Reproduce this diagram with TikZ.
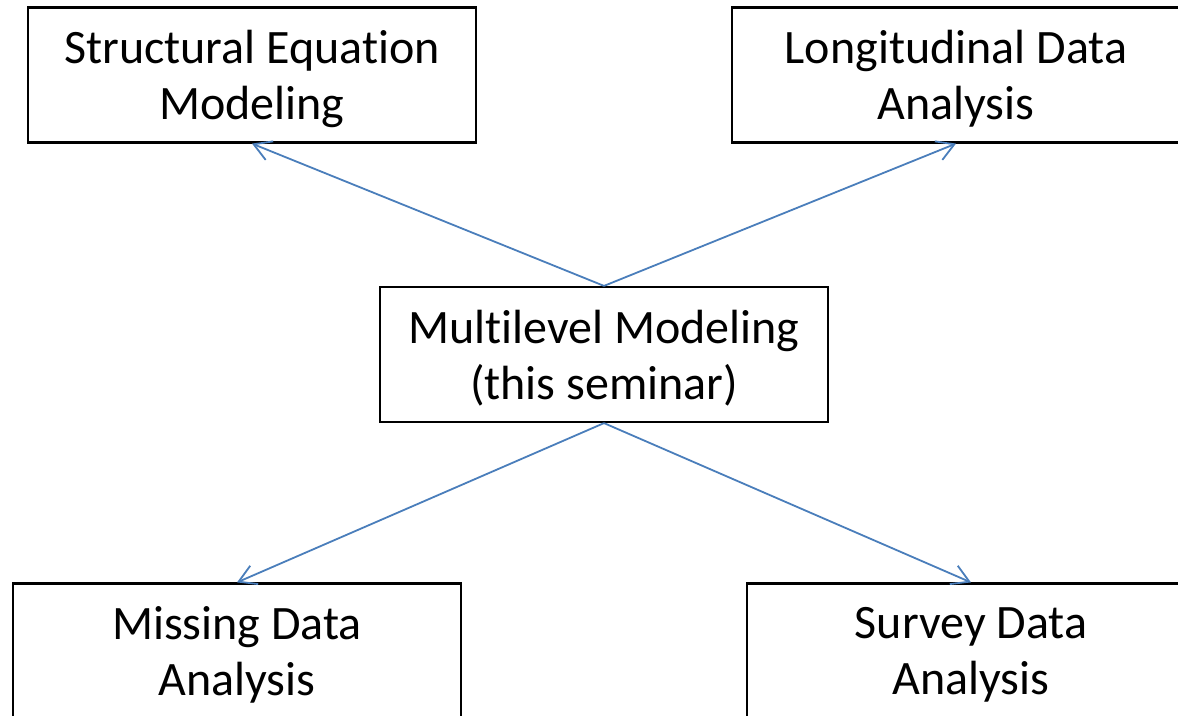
\documentclass[tikz,border=0pt]{standalone}
\usepackage{fontspec}
\setmainfont{Carlito}[Ligatures={NoCommon}]
\usetikzlibrary{arrows.meta}
\definecolor{arrowblue}{HTML}{4A7EBB}
\newcommand{\dnline}[1]{\raisebox{-3.5pt}[\height][\depth]{#1}}
\begin{document}
\begin{tikzpicture}[x=1pt,y=-1pt,
  box/.style={draw=black,line width=2.2pt,minimum width=448pt,minimum height=135pt,align=center,inner sep=0pt,font=\fontsize{48}{56}\selectfont},
  link/.style={draw=arrowblue,line width=1.8pt,-{Straight Barb[length=17pt,width=20pt]}}]
\useasboundingbox (0,0) rectangle (1178,715);
\node[box] (sem) at (252,75) {\dnline{Structural Equation}\\\dnline{Modeling}};
\node[box] (lda) at (956,75) {\dnline{Longitudinal Data}\\\dnline{Analysis}};
\node[box] (mlm) at (604,354.5) {\dnline{Multilevel Modeling}\\\dnline{(this seminar)}};
\node[box] (mda) at (237,651) {\dnline{Missing Data}\\\dnline{Analysis}};
\node[box] (sda) at (971,651) {\dnline{Survey Data}\\\dnline{Analysis}};
\draw[link] (mlm.north) -- (sem.south);
\draw[link] (mlm.north) -- (lda.south);
\draw[link] (mlm.south) -- (mda.north);
\draw[link] (mlm.south) -- (sda.north);
\end{tikzpicture}
\end{document}
